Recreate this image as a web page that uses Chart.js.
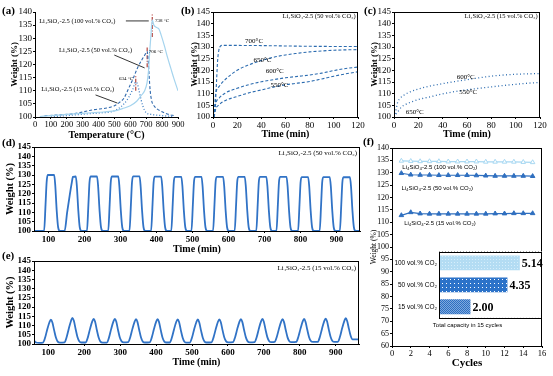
<!DOCTYPE html>
<html>
<head>
<meta charset="utf-8">
<script src="https://cdn.jsdelivr.net/npm/chart.js@4.4.1/dist/chart.umd.min.js"></script>
<style>
  body { margin: 0; background: #fff; }
  #fig { position: relative; width: 553px; height: 376px; overflow: hidden; background: #fff; }
  .panel { position: absolute; }
  .tag { position: absolute; font: bold 11px "Liberation Serif", serif; color: #000; }
</style>
</head>
<body>
<div id="fig">
  <div class="panel" style="left:0;top:0;width:192px;height:143px"><canvas id="chartA"></canvas></div>
  <div class="panel" style="left:180px;top:0;width:192px;height:140px"><canvas id="chartB"></canvas></div>
  <div class="panel" style="left:362px;top:0;width:191px;height:140px"><canvas id="chartC"></canvas></div>
  <div class="panel" style="left:0;top:137px;width:372px;height:119px"><canvas id="chartD"></canvas></div>
  <div class="panel" style="left:0;top:251px;width:371px;height:125px"><canvas id="chartE"></canvas></div>
  <div class="panel" style="left:362px;top:138px;width:191px;height:238px"><canvas id="chartF"></canvas></div>
  <div class="panel" style="left:393px;top:246px;width:150px;height:85px"><canvas id="chartInset"></canvas></div>
  <div class="tag" style="left:2px;top:4px">(a)</div>
  <div class="tag" style="left:181px;top:4px">(b)</div>
  <div class="tag" style="left:364px;top:4px">(c)</div>
  <div class="tag" style="left:2px;top:136px">(d)</div>
  <div class="tag" style="left:2px;top:249px">(e)</div>
  <div class="tag" style="left:363px;top:135px">(f)</div>
</div>
<script>
// ---- (a) heating in CO2 ----
const tempA100 = [30, 100, 200, 300, 400, 500, 550, 600, 640, 670, 690, 705, 715, 722, 730, 738, 748, 762, 780, 795, 815, 835, 855, 875, 900];
const weightA100 = [100.2, 100.5, 101.0, 101.4, 101.8, 102.3, 103.2, 104.3, 106.0, 108.3, 110.0, 113.0, 118.0, 125.0, 131.5, 137.0, 135.0, 134.2, 133.5, 131.0, 127.0, 122.5, 118.5, 114.5, 110.0];
const tempA50 = [60, 150, 250, 300, 350, 400, 450, 500, 530, 560, 590, 620, 645, 670, 690, 706, 712, 718, 725, 735, 750, 770, 800, 840, 880];
const weightA50 = [100.5, 100.8, 101.3, 101.9, 102.6, 103.0, 103.4, 104.3, 105.5, 107.2, 111.0, 115.0, 118.7, 121.5, 123.5, 125.0, 122.0, 116.0, 110.0, 106.0, 104.2, 103.0, 102.0, 101.0, 100.5];
const tempA15 = [100, 250, 350, 420, 480, 520, 560, 590, 615, 634, 645, 655, 668, 680, 690, 700, 730, 770, 820, 870];
const weightA15 = [100.0, 100.8, 101.3, 101.6, 102.0, 103.0, 105.0, 107.5, 110.5, 113.3, 112.5, 110.0, 106.5, 104.0, 102.5, 101.6, 101.0, 100.7, 100.4, 100.2];
const peakTemps = [634, 706, 738];
const peakSpans = [[110, 116], [119, 126.5], [130.5, 139.5]];
const ticksA_x = [0, 100, 200, 300, 400, 500, 600, 700, 800, 900];
const ticksA_y = [100, 105, 110, 115, 120, 125, 130, 135, 140];

// ---- (b) isothermal, 50 vol.% CO2 ----
const bTime700 = [0.8, 2, 3, 3.8, 4.8, 6, 8, 40, 80, 120];
const bW700 = [100, 106, 116, 124, 128.5, 130.3, 130.7, 130.6, 130.3, 130.2];
const bTime650 = [1, 2, 5, 10, 20, 30, 40, 50, 60, 70, 80, 100, 120];
const bW650 = [100, 109, 113, 116, 120, 122.4, 124.2, 125.6, 126.6, 127.3, 127.9, 128.6, 128.9];
const bTime600 = [1, 2, 5, 10, 20, 30, 40, 50, 60, 70, 80, 90, 100, 110, 120];
const bW600 = [100, 105, 108, 110.2, 112.3, 113.9, 115.1, 116, 116.8, 117.4, 118, 118.8, 119.9, 120.8, 121.4];
const bTime550 = [1, 2, 5, 10, 20, 30, 40, 50, 60, 70, 80, 90, 100, 110, 120];
const bW550 = [100, 103, 105.2, 107, 108.8, 110.4, 111.6, 112.8, 113.8, 114.5, 115.2, 116.3, 117.5, 118.5, 119.4];

// ---- (c) isothermal, 15 vol.% CO2 ----
const cTime600 = [0, 1, 2, 3, 5, 8, 12, 20, 30, 40, 50, 60, 70, 80, 90, 100, 110, 120];
const cW600 = [100, 101.5, 104, 106.3, 108, 109.3, 110.5, 112, 113.3, 114.3, 115.2, 116, 116.8, 117.5, 118, 118.3, 118.5, 118.6];
const cTime550 = [0, 2, 4, 6, 10, 15, 20, 30, 40, 50, 60, 70, 80, 90, 100, 110, 120];
const cW550 = [100, 101.5, 102.8, 104.2, 105.5, 106.6, 107.5, 108.7, 109.9, 110.9, 111.7, 112.3, 112.9, 113.5, 114, 114.5, 114.8];
const ticksBC_x = [0, 20, 40, 60, 80, 100, 120];
const ticksBC_y = [100, 105, 110, 115, 120, 125, 130, 135, 140, 145];

// ---- (d) cycling, 50 vol.% CO2 ----
const dTime = [
  60, 88, 92, 95, 98, 116, 119, 123, 127, 132,
  145, 152, 159, 165, 168, 176, 179, 183, 187, 192,
  207, 211, 214, 217, 235, 238, 242, 246, 251,
  266, 270, 273, 276, 294, 297, 301, 305, 310,
  325, 329, 332, 335, 353, 356, 360, 364, 369,
  385, 389, 392, 395, 413, 416, 420, 424, 429,
  441, 445, 448, 451, 469, 472, 476, 480, 485,
  497, 501, 504, 507, 525, 528, 532, 536, 541,
  557, 561, 564, 567, 585, 588, 592, 596, 601,
  617, 621, 624, 627, 645, 648, 652, 656, 661,
  677, 681, 684, 687, 705, 708, 712, 716, 721,
  733, 737, 740, 743, 761, 764, 768, 772, 777,
  793, 797, 800, 803, 821, 824, 828, 832, 837,
  853, 857, 860, 863, 881, 884, 888, 892, 897,
  909, 913, 916, 919, 937, 940, 944, 948, 953,
  965];
const dWeight = [
  100, 100, 114, 126, 130, 130, 124.5, 111, 102, 100,
  100, 110, 119, 126, 129, 129.2, 124, 111, 102, 100,
  100, 114, 126, 129.2, 129.2, 124, 111, 102, 100,
  100, 114, 126, 129.2, 129.2, 124, 111, 102, 100,
  100, 114, 126, 129.3, 129.3, 124, 111, 102, 100,
  100, 114, 126, 129.1, 129.1, 124, 111, 102, 100,
  100, 114, 126, 129, 129, 124, 111, 102, 100,
  100, 114, 126, 129, 129, 124, 111, 102, 100,
  100, 114, 126, 129, 129, 124, 111, 102, 100,
  100, 114, 126, 129, 129, 124, 111, 102, 100,
  100, 114, 126, 129, 129, 124, 111, 102, 100,
  100, 114, 126, 129, 129, 124, 111, 102, 100,
  100, 114, 126, 128.9, 128.9, 124, 111, 102, 100,
  100, 114, 126, 128.9, 128.9, 124, 111, 102, 100,
  100, 114, 126, 128.8, 128.8, 124, 111, 102, 100,
  100];

// ---- (e) cycling, 15 vol.% CO2 ----
const eTime = [
  60, 66, 74,
  85, 91, 97, 103, 107, 111, 116, 121, 126, 132,
  145, 151, 157, 163, 167, 171, 176, 181, 186, 192,
  204, 210, 216, 222, 226, 230, 235, 240, 245, 251,
  263, 269, 275, 281, 285, 289, 294, 299, 304, 310,
  322, 328, 334, 340, 344, 348, 353, 358, 363, 369,
  382, 388, 394, 400, 404, 408, 413, 418, 423, 429,
  438, 444, 450, 456, 460, 464, 469, 474, 479, 485,
  494, 500, 506, 512, 516, 520, 525, 530, 535, 541,
  554, 560, 566, 572, 576, 580, 585, 590, 595, 601,
  614, 620, 626, 632, 636, 640, 645, 650, 655, 661,
  674, 680, 686, 692, 696, 700, 705, 710, 715, 721,
  730, 736, 742, 748, 752, 756, 761, 766, 771, 777,
  790, 796, 802, 808, 812, 816, 821, 826, 831, 837,
  850, 856, 862, 868, 872, 876, 881, 886, 891, 897,
  906, 912, 918, 924, 928, 932, 937, 942, 947, 965];
const eWeight = [
  101.8, 100.8, 100.6,
  100.8, 103.5, 108.0, 111.8, 113.2, 111.8, 107.5, 103.5, 101.3, 100.7,
  100.9, 103.8, 108.4, 112.5, 114.2, 112.6, 108.0, 103.8, 101.5, 100.8,
  100.8, 103.6, 108.2, 112.1, 113.6, 112.2, 107.6, 103.5, 101.3, 100.7,
  100.8, 103.6, 108.2, 112.1, 113.6, 112.2, 107.6, 103.5, 101.4, 100.9,
  101.0, 103.7, 108.2, 112.0, 113.5, 112.0, 107.6, 103.5, 101.3, 100.8,
  100.9, 103.6, 108.1, 112.0, 113.5, 112.0, 107.5, 103.4, 101.3, 100.8,
  100.8, 103.5, 108.0, 111.9, 113.4, 111.9, 107.4, 103.4, 101.2, 100.7,
  100.8, 103.5, 108.0, 111.8, 113.3, 111.8, 107.4, 103.4, 101.3, 100.8,
  100.9, 103.6, 108.0, 111.9, 113.4, 111.9, 107.5, 103.5, 101.4, 100.9,
  101.0, 103.7, 108.1, 112.0, 113.5, 112.0, 107.6, 103.6, 101.4, 100.9,
  101.0, 103.7, 108.2, 112.1, 113.6, 112.1, 107.6, 103.6, 101.5, 101.0,
  101.1, 103.8, 108.2, 112.0, 113.5, 112.0, 107.6, 103.6, 101.5, 101.0,
  101.1, 103.8, 108.2, 112.1, 113.6, 112.1, 107.7, 103.7, 101.6, 101.1,
  101.1, 103.8, 108.3, 112.3, 113.8, 112.3, 107.8, 103.8, 101.6, 101.1,
  101.2, 103.9, 108.5, 112.4, 114.0, 112.5, 108.2, 104.3, 102.5, 102.5];
const ticksDE_x = [100, 200, 300, 400, 500, 600, 700, 800, 900];
const ticksDE_y = [100, 105, 110, 115, 120, 125, 130, 135, 140, 145];

// ---- (f) capacity per cycle ----
const cycles = [1, 2, 3, 4, 5, 6, 7, 8, 9, 10, 11, 12, 13, 14, 15];
const capF100 = [134.8, 134.7, 134.6, 134.6, 134.6, 134.5, 134.5, 134.5, 134.5, 134.4, 134.4, 134.4, 134.4, 134.3, 134.2];
const capF50 = [129.8, 129.2, 129.1, 129.1, 129.0, 129.0, 129.0, 129.0, 128.9, 128.8, 128.7, 128.7, 128.7, 128.7, 128.6];
const capF15 = [112.8, 114.0, 113.5, 113.4, 113.4, 113.4, 113.4, 113.4, 113.4, 113.4, 113.5, 113.5, 113.6, 113.6, 113.6];
const ticksF_x = [0, 2, 4, 6, 8, 10, 12, 14, 16];
const ticksF_y = [60, 65, 70, 75, 80, 85, 90, 95, 100, 105, 110, 115, 120, 125, 130, 135, 140];
const insetCats = ['100 vol.% CO₂', '50 vol.% CO₂', '15 vol.% CO₂'];
const insetTotal = [5.14, 4.35, 2.00];
const insetText = ['5.14', '4.35', '2.00'];

const SERIF = '"Liberation Serif", serif';
const SANS = '"Liberation Sans", sans-serif';
Chart.defaults.font.family = SERIF;
Chart.defaults.color = '#000';

// text, leader lines and frame drawn in data units
const notes = {
  id: 'notes',
  afterDatasetsDraw(chart, args, opts) {
    const ctx = chart.ctx, x = chart.scales.x, y = chart.scales.y;
    ctx.save();
    (opts.lines || []).forEach(l => {
      ctx.strokeStyle = '#000';
      ctx.lineWidth = 0.8;
      ctx.beginPath();
      ctx.moveTo(x.getPixelForValue(l[0]), y.getPixelForValue(l[1]));
      ctx.lineTo(x.getPixelForValue(l[2]), y.getPixelForValue(l[3]));
      ctx.stroke();
    });
    (opts.texts || []).forEach(t => {
      ctx.font = t.font || ('6.5px ' + SERIF);
      ctx.fillStyle = '#000';
      ctx.textAlign = t.align || 'left';
      ctx.textBaseline = 'middle';
      ctx.fillText(t.text, x.getPixelForValue(t.x), y.getPixelForValue(t.y));
    });
    if (opts.frame) {
      const a = chart.chartArea;
      ctx.strokeStyle = '#000';
      ctx.lineWidth = 1;
      ctx.strokeRect(Math.round(a.left) + 0.5, Math.round(a.top) + 0.5, Math.round(a.right - a.left) - 1, Math.round(a.bottom - a.top));
    }
    ctx.restore();
  }
};

const barValues = {
  id: 'barValues',
  beforeDatasetsDraw(chart, args, opts) {
    if (!opts || !opts.labels) return;
    const a = chart.chartArea;
    chart.ctx.save();
    chart.ctx.fillStyle = '#fff';
    chart.ctx.fillRect(a.left, a.top, a.right - a.left, a.bottom - a.top);
    chart.ctx.restore();
  },
  afterDatasetsDraw(chart, args, opts) {
    if (!opts || !opts.labels) return;
    const ctx = chart.ctx;
    ctx.save();
    ctx.font = 'bold 12px ' + SERIF;
    ctx.fillStyle = '#000';
    ctx.textBaseline = 'middle';
    chart.getDatasetMeta(0).data.forEach((bar, i) => ctx.fillText(opts.labels[i], bar.x + 2, bar.y + 1));
    ctx.restore();
  }
};
Chart.register(notes, barValues);

function pts(xs, ys) {
  return xs.map((v, i) => ({ x: v, y: ys[i] }));
}

function axis(min, max, ticks, title, size, tickFont, titleFont, titlePad) {
  return {
    type: 'linear', min: min, max: max,
    afterBuildTicks: s => { s.ticks = ticks.map(v => ({ value: v })); },
    afterFit: s => { if (s.isHorizontal()) s.height = size; else s.width = size; },
    border: { display: true, color: '#000', width: 1 },
    grid: { drawOnChartArea: false, drawTicks: true, tickLength: 2, color: '#000' },
    ticks: { autoSkip: false, maxRotation: 0, padding: 1, color: '#000', font: tickFont },
    title: { display: true, text: title, color: '#000', font: titleFont, padding: titlePad }
  };
}

function opts(pad, xAxis, yAxis, noteOpts) {
  return {
    responsive: true, maintainAspectRatio: false, animation: false,
    layout: { padding: pad },
    plugins: { legend: { display: false }, tooltip: { enabled: false }, notes: noteOpts },
    elements: { point: { radius: 0 } },
    scales: { x: xAxis, y: yAxis }
  };
}

function curve(xs, ys, color, width, dash) {
  return { data: pts(xs, ys), borderColor: color, borderWidth: width, borderDash: dash || [], cubicInterpolationMode: 'monotone', fill: false };
}

const tickS = { size: 9 };

// (a)
new Chart(document.getElementById('chartA'), {
  type: 'line',
  data: {
    datasets: [
      curve(tempA100, weightA100, '#a5d4ee', 1.2),
      curve(tempA50, weightA50, '#2e68ad', 1.1, [3, 2]),
      curve(tempA15, weightA15, '#3a7cc2', 1.3, [1, 2])
    ].concat(peakTemps.map((t, i) => ({
      data: pts([t, t], peakSpans[i]), borderColor: '#b5453f', borderWidth: 1.2, borderDash: [4, 1.5, 1, 1.5]
    })))
  },
  options: opts({ top: 12, right: 14, left: 0, bottom: 0 },
    axis(0, 900, ticksA_x, 'Temperature (°C)', 26, { size: 8.5 }, { size: 10, weight: 'bold' }, { top: 0, bottom: 2 }),
    axis(100, 140, ticksA_y, 'Weight (%)', 35, tickS, { size: 9, weight: 'bold' }, { top: 9.6, bottom: 0 }),
    {
      texts: [
        { text: 'Li₄SiO₄-2.5 (100 vol.% CO₂)', x: 26, y: 136.6 },
        { text: 'Li₄SiO₄-2.5 (50 vol.% CO₂)', x: 151, y: 125.5 },
        { text: 'Li₄SiO₄-2.5 (15 vol.% CO₂)', x: 39, y: 110.7 },
        { text: '634 °C', x: 618, y: 114.5, align: 'right', font: '5px ' + SERIF },
        { text: '706 °C', x: 716, y: 124.8, font: '5px ' + SERIF },
        { text: '738 °C', x: 756, y: 136.6, font: '5px ' + SERIF }
      ],
      lines: [[572, 136.6, 716, 136.6], [499, 123.6, 690, 118.7], [381, 108.4, 519, 105.3]]
    })
});

// (b)
const tempFont = '7px ' + SERIF;
new Chart(document.getElementById('chartB'), {
  type: 'line',
  data: {
    datasets: [
      curve(bTime700, bW700, '#2c6cb0', 1.1, [3, 2]),
      curve(bTime650, bW650, '#2c6cb0', 1.1, [3, 2]),
      curve(bTime600, bW600, '#2c6cb0', 1.1, [3, 2]),
      curve(bTime550, bW550, '#2c6cb0', 1.1, [3, 2])
    ]
  },
  options: opts({ top: 12, right: 14, left: 0, bottom: 0 },
    axis(0, 120, ticksBC_x, 'Time (min)', 23, tickS, { size: 10, weight: 'bold' }, { top: 0, bottom: 0 }),
    axis(100, 145, ticksBC_y, 'Weight (%)', 33, tickS, { size: 9, weight: 'bold' }, { top: 9.6, bottom: 0 }),
    {
      frame: true,
      texts: [
        { text: 'Li₄SiO₄-2.5 (50 vol.% CO₂)', x: 118, y: 143, align: 'right' },
        { text: '700°C', x: 34, y: 132.3, align: 'center', font: tempFont },
        { text: '650°C', x: 41, y: 124.5, align: 'center', font: tempFont },
        { text: '600°C', x: 51, y: 119.5, align: 'center', font: tempFont },
        { text: '550°C', x: 55, y: 113.8, align: 'center', font: tempFont }
      ]
    })
});

// (c)
new Chart(document.getElementById('chartC'), {
  type: 'line',
  data: {
    datasets: [
      curve(cTime600, cW600, '#2c6cb0', 1.3, [1, 2.5]),
      curve(cTime550, cW550, '#2c6cb0', 1.3, [1, 2.5])
    ]
  },
  options: opts({ top: 12, right: 13, left: 0, bottom: 0 },
    axis(0, 120, ticksBC_x, 'Time (min)', 23, tickS, { size: 10, weight: 'bold' }, { top: 0, bottom: 0 }),
    axis(100, 145, ticksBC_y, 'Weight (%)', 32, tickS, { size: 9, weight: 'bold' }, { top: 7.6, bottom: 0 }),
    {
      frame: true,
      texts: [
        { text: 'Li₄SiO₄-2.5 (15 vol.% CO₂)', x: 118, y: 143, align: 'right' },
        { text: '600°C', x: 59, y: 117.2, align: 'center', font: tempFont },
        { text: '550°C', x: 61, y: 110.6, align: 'center', font: tempFont },
        { text: '650°C', x: 17, y: 102, align: 'center', font: tempFont }
      ]
    })
});

// (d)
const tickB = { size: 9, weight: 'bold' };
new Chart(document.getElementById('chartD'), {
  type: 'line',
  data: { datasets: [curve(dTime, dWeight, '#3173c6', 1.8)] },
  options: opts({ top: 10, right: 12, left: 0, bottom: 0 },
    axis(60, 965, ticksDE_x, 'Time (min)', 25, tickB, { size: 10, weight: 'bold' }, { top: 0, bottom: 0.5 }),
    axis(100, 145, ticksDE_y, 'Weight (%)', 34, tickB, { size: 10.5, weight: 'bold' }, { top: 3.7, bottom: 0 }),
    { frame: true, texts: [{ text: 'Li₄SiO₄-2.5 (50 vol.% CO₂)', x: 957, y: 141.6, align: 'right', font: '7px ' + SERIF }] })
});

// (e)
new Chart(document.getElementById('chartE'), {
  type: 'line',
  data: { datasets: [curve(eTime, eWeight, '#3173c6', 1.8)] },
  options: opts({ top: 10, right: 12, left: 0, bottom: 0 },
    axis(60, 965, ticksDE_x, 'Time (min)', 32, tickB, { size: 10, weight: 'bold' }, { top: 0, bottom: 7.5 }),
    axis(100, 145, ticksDE_y, 'Weight (%)', 34, tickB, { size: 10.5, weight: 'bold' }, { top: 3.7, bottom: 0 }),
    { frame: true, texts: [{ text: 'Li₄SiO₄-2.5 (15 vol.% CO₂)', x: 957, y: 141, align: 'right', font: '7px ' + SERIF }] })
});

// (f)
function markers(ys, color, fillColor) {
  return {
    data: pts(cycles, ys), borderColor: color, borderWidth: 1.2,
    pointStyle: 'triangle', pointRadius: 2.6, pointBorderWidth: 1,
    pointBorderColor: color, pointBackgroundColor: fillColor
  };
}
const fLab = '6px ' + SANS;
new Chart(document.getElementById('chartF'), {
  type: 'line',
  data: {
    datasets: [
      markers(capF100, '#a8d8f2', '#ffffff'),
      markers(capF50, '#2f6fbf', '#2f6fbf'),
      markers(capF15, '#2f6fbf', '#2f6fbf')
    ]
  },
  options: opts({ top: 10, right: 11, left: 0, bottom: 0 },
    axis(0, 16, ticksF_x, 'Cycles', 30, { size: 8.5 }, { size: 11, weight: 'bold' }, { top: 0, bottom: 6 }),
    axis(60, 140, ticksF_y, 'Weight (%)', 30, { size: 8 }, { size: 7.5 }, { top: 7.5, bottom: 0 }),
    {
      frame: true,
      texts: [
        { text: 'Li₄SiO₄-2.5 (100 vol.% CO₂)', x: 1.1, y: 132, font: fLab },
        { text: 'Li₄SiO₄-2.5 (50 vol.% CO₂)', x: 1.0, y: 123.6, font: fLab },
        { text: 'Li₄SiO₄-2.5 (15 vol.% CO₂)', x: 1.3, y: 109.7, font: fLab }
      ]
    })
});

// inset bar fills
function pattern(base, spot, every, checker) {
  const c = document.createElement('canvas');
  c.width = every; c.height = every;
  const g = c.getContext('2d');
  g.fillStyle = base;
  g.fillRect(0, 0, every, every);
  g.fillStyle = spot;
  if (checker) {
    for (let i = 0; i < every; i++) for (let j = 0; j < every; j++) if ((i + j) % 2 === 0) g.fillRect(i, j, 1, 1);
  } else {
    g.fillRect(1, 1, 1, 1);
  }
  return g.createPattern(c, 'repeat');
}
const insetFill = [
  pattern('#b3dcf3', '#d6eefb', 3, false),
  pattern('#2c73c9', '#ffffff', 4, false),
  pattern('#2d6fc2', '#7fa9dd', 2, true)
];

new Chart(document.getElementById('chartInset'), {
  type: 'bar',
  data: {
    labels: insetCats,
    datasets: [{ data: insetTotal, backgroundColor: insetFill, borderWidth: 0, barPercentage: 0.8, categoryPercentage: 0.85 }]
  },
  options: {
    indexAxis: 'y',
    responsive: true, maintainAspectRatio: false, animation: false,
    layout: { padding: { top: 2, right: 1, left: 0, bottom: 0 } },
    plugins: {
      legend: { display: false }, tooltip: { enabled: false },
      title: { display: true, position: 'bottom', text: 'Total capacity in 15 cycles', color: '#000', font: { family: SANS, size: 6, weight: 'normal' }, padding: { top: 4, bottom: 2 } },
      notes: { frame: true },
      barValues: { labels: insetText }
    },
    scales: {
      x: { display: false, min: 0, max: 6.55 },
      y: {
        afterFit: s => { s.width = 46; },
        border: { display: false, dash: [1, 2] },
        grid: { offset: true, color: '#888', lineWidth: 0.8, drawTicks: false },
        ticks: { color: '#000', padding: 2, font: { family: SANS, size: 6.5 } }
      }
    }
  }
});
</script>
</body>
</html>
